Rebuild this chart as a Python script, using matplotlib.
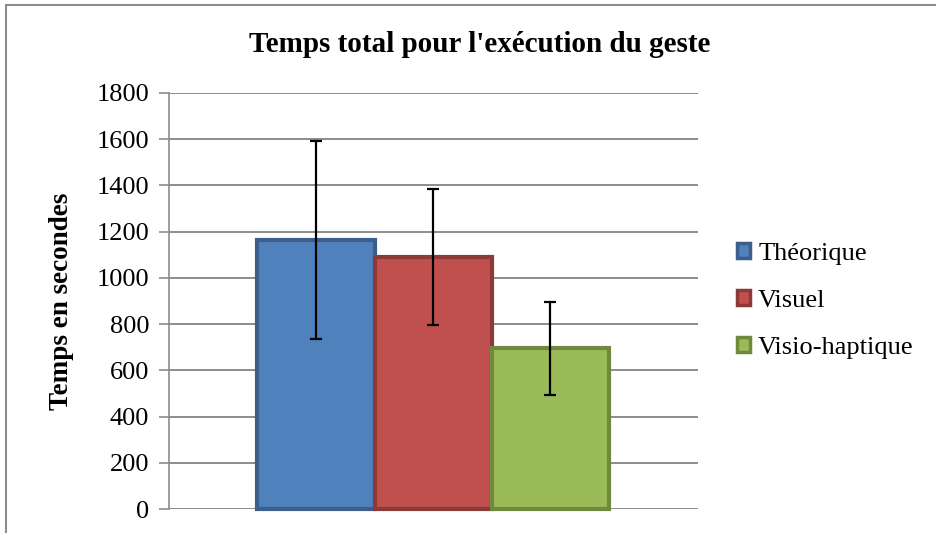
import matplotlib
matplotlib.use("Agg")
import matplotlib.pyplot as plt
from matplotlib.patches import Rectangle, Patch
import numpy as np

plt.rcParams['font.family'] = ['Liberation Serif', 'DejaVu Serif']

title = "Temps total pour l'exécution du geste"
ylabel = "Temps en secondes"
series = ["Théorique", "Visuel", "Visio-haptique"]
means = [1163, 1092, 695]
errors = [428, 294, 202]
fills = ["#4F81BD", "#C0504D", "#9BBB59"]
edges = ["#3B5E8C", "#8C3A38", "#71893F"]
yticks = [0, 200, 400, 600, 800, 1000, 1200, 1400, 1600, 1800]

W, H = 936, 533
fig = plt.figure(figsize=(W / 100, H / 100), dpi=100)
ax = fig.add_axes([168.5 / W, 1 - 509 / H, (698 - 168.5) / W, (509 - 93) / H])

w = 0.2214
offsets = [-w, 0.0, w]
for i, name in enumerate(series):
    ax.bar(offsets[i], means[i], width=w, color=fills[i], edgecolor=edges[i],
           linewidth=3, zorder=3, clip_on=False, label=name)
    ax.errorbar(offsets[i], means[i], yerr=errors[i], fmt='none', ecolor='black',
                elinewidth=1.6, capsize=4.5, capthick=1.6, zorder=4)

ax.set_xlim(-0.5, 0.5)
ax.set_ylim(0, 1800)
ax.set_yticks(yticks)
ax.set_yticklabels([str(t) for t in yticks], fontsize=19)
ax.set_xticks([])
ax.yaxis.grid(True, color='#8C8C8C', linewidth=1.4, zorder=0)
ax.set_axisbelow(True)
for s in ['top', 'right', 'bottom']:
    ax.spines[s].set_visible(False)
ax.spines['left'].set_color('#8C8C8C')
ax.spines['left'].set_linewidth(1.2)
ax.tick_params(axis='y', direction='out', length=7, width=1.2, color='#8C8C8C', pad=7)

fig.text(62 / W, 1 - 301 / H, ylabel, rotation=90, fontsize=19.5, fontweight='bold',
         ha='center', va='center')
fig.text(480 / W, 1 - 45 / H, title, fontsize=21, fontweight='bold', ha='center', va='center')

handles = [Patch(facecolor=fills[i], edgecolor=edges[i], linewidth=2.5) for i in range(3)]
leg = fig.legend(handles, series, loc='center left', bbox_to_anchor=(737 / W, 1 - 301 / H),
                 frameon=False, fontsize=19, handlelength=0.5, handleheight=0.5,
                 handletextpad=0.3, labelspacing=0.95, borderaxespad=0, borderpad=0)

fig.patches.append(Rectangle((5.5 / W, -0.1), 1.2, 1 - 4.5 / H + 0.1, transform=fig.transFigure,
                             fill=False, edgecolor='#8C8C8C', linewidth=1.5))

fig.savefig("out.png", dpi=100)
